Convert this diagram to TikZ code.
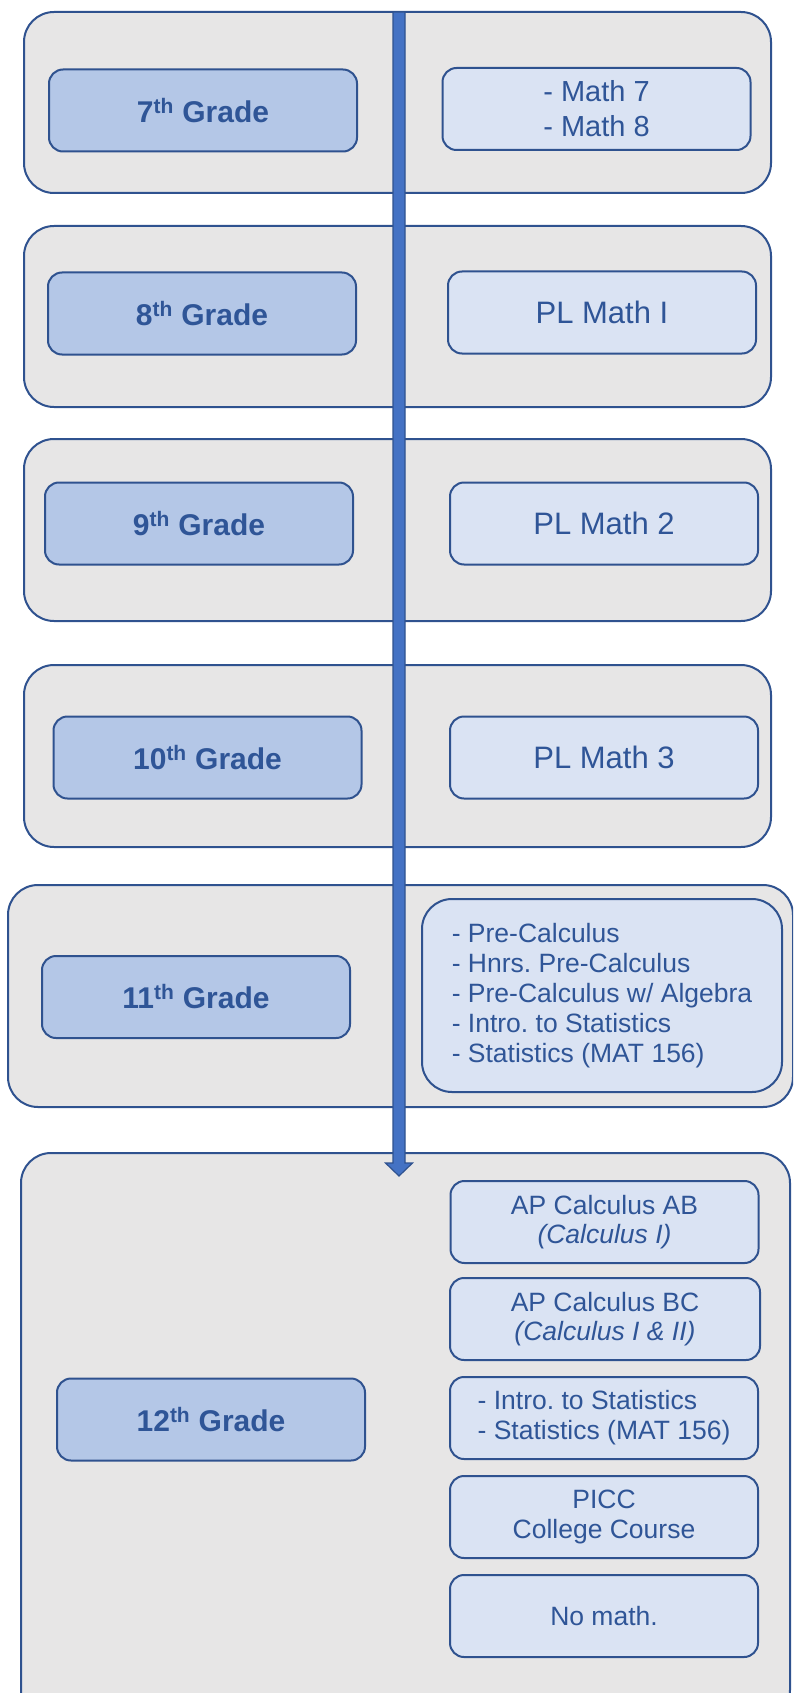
\documentclass[tikz,border=0pt]{standalone}
\usepackage{fontspec}
\setmainfont{Liberation Sans}
\frenchspacing
\definecolor{edge}{HTML}{2F528F}
\definecolor{txt}{HTML}{2F5597}
\definecolor{bgfill}{HTML}{E7E6E6}
\definecolor{gfill}{HTML}{B4C7E7}
\definecolor{cfill}{HTML}{DAE3F3}
\definecolor{arr}{HTML}{4472C4}
\begin{document}
\begin{tikzpicture}[x=1pt,y=-1pt,
  outerbox/.style={draw=edge, line width=2pt, fill=bgfill, rounded corners=30pt, inner sep=0pt},
  gradebox/.style={draw=edge, line width=2pt, fill=gfill, rounded corners=14pt, minimum width=308pt, minimum height=82pt, inner sep=0pt, text=txt, font=\fontsize{30}{36}\selectfont\bfseries},
  coursebox/.style={draw=edge, line width=2pt, fill=cfill, rounded corners=14pt, minimum width=308pt, minimum height=82pt, inner sep=0pt, text=txt},
  bigtxt/.style={font=\fontsize{31}{37}\selectfont},
  midtxt/.style={font=\fontsize{29}{35}\selectfont},
  smalltxt/.style={font=\fontsize{26.5}{30}\selectfont},
]
\useasboundingbox (0,0) rectangle (793,1693);
\clip (0,0) rectangle (793,1693);

% 7th grade
\node[outerbox, minimum width=747pt, minimum height=181pt] (r7) at (397.5,102.5) {};
\node[gradebox] (g7) at (203,110.5) {7\textsuperscript{th} Grade};
\node[coursebox, midtxt, align=left] (c7) at (596.5,109) {- Math 7\\- Math 8};

% 8th grade
\node[outerbox, minimum width=747pt, minimum height=181pt] (r8) at (397.5,316.5) {};
\node[gradebox] (g8) at (202,313.5) {8\textsuperscript{th} Grade};
\node[coursebox, bigtxt] (c8) at (602,312.5) {PL Math I};

% 9th grade
\node[outerbox, minimum width=747pt, minimum height=182pt] (r9) at (397.5,530) {};
\node[gradebox] (g9) at (199,523.5) {9\textsuperscript{th} Grade};
\node[coursebox, bigtxt] (c9) at (604,523.5) {PL Math 2};

% 10th grade
\node[outerbox, minimum width=747pt, minimum height=182pt] (r10) at (397.5,756) {};
\node[gradebox] (g10) at (207.5,757.5) {10\textsuperscript{th} Grade};
\node[coursebox, bigtxt] (c10) at (604,757.5) {PL Math 3};

% 11th grade
\node[outerbox, minimum width=785pt, minimum height=222pt] (r11) at (400.5,996) {};
\node[gradebox] (g11) at (196,997) {11\textsuperscript{th} Grade};
\node[coursebox, smalltxt, align=left, rounded corners=30pt, minimum width=360pt, minimum height=193pt] (c11) at (602,995.5)
  {- Pre-Calculus\\- Hnrs. Pre-Calculus\\- Pre-Calculus w/ Algebra\\- Intro. to Statistics\\- Statistics (MAT 156)};

% 12th grade
\node[outerbox, minimum width=769pt, minimum height=567pt] (r12) at (405.5,1436.5) {};
\node[gradebox] (g12) at (211,1419.5) {12\textsuperscript{th} Grade};
\node[coursebox, align=center, font=\fontsize{26.5}{29.5}\selectfont] (ab) at (604.5,1222) {AP Calculus AB\\\textit{(Calculus I)}};
\node[coursebox, align=center, font=\fontsize{26.5}{29.5}\selectfont, minimum width=310pt] (bc) at (605,1319) {AP Calculus BC\\\textit{(Calculus I \& II)}};
\node[coursebox, smalltxt, align=left] (st) at (604,1418) {- Intro. to Statistics\\- Statistics (MAT 156)};
\node[coursebox, smalltxt, align=center] (picc) at (604,1517) {PICC\\College Course};
\node[coursebox, smalltxt] (nm) at (604,1616) {No math.};

% timeline arrow
\coordinate (atop) at (399,12);
\coordinate (atip) at (399,1176);
\draw[edge, line width=1.2pt, fill=arr, line join=miter]
  ([xshift=-6pt]atop) -- ([xshift=6pt]atop) -- ([xshift=6pt,yshift=13pt]atip)
  -- ([xshift=13.5pt,yshift=13pt]atip) -- (atip) -- ([xshift=-13.5pt,yshift=13pt]atip)
  -- ([xshift=-6pt,yshift=13pt]atip) -- cycle;
\end{tikzpicture}
\end{document}
